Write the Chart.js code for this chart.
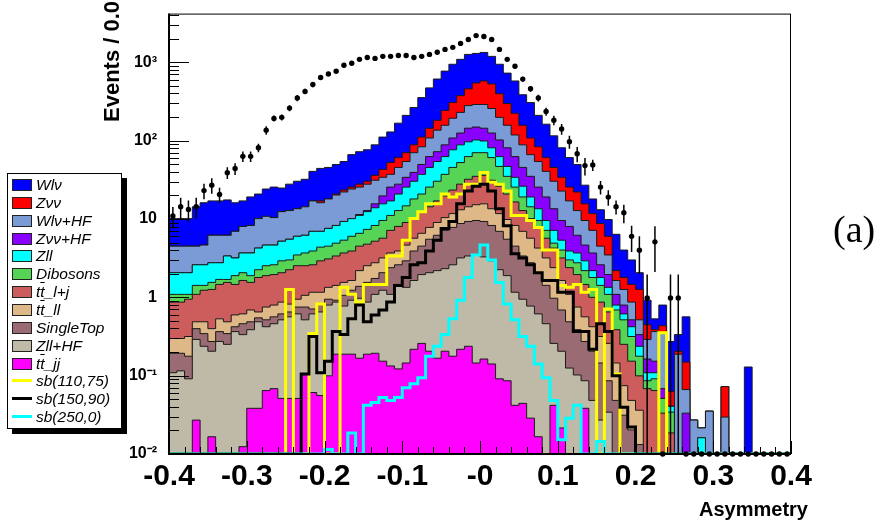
<!DOCTYPE html>
<html>
<head>
<meta charset="utf-8">
<title>Asymmetry</title>
<script src="https://cdn.jsdelivr.net/npm/chart.js@4.4.1/dist/chart.umd.min.js"></script>
<style>
  html, body { margin: 0; padding: 0; background: #fff; }
  #wrap { position: relative; width: 885px; height: 526px; overflow: hidden; background: #fff; }
  #plot { position: absolute; left: 0; top: 0; }
  .ytitle { position: absolute; left: 101px; top: 122px; transform: rotate(-90deg); transform-origin: 0 0; white-space: nowrap; font: bold 22px/22px 'Liberation Sans', Arial, sans-serif; }
  .xtitle { position: absolute; left: 608px; top: 499px; width: 200px; text-align: right; font: bold 20px/20px 'Liberation Sans', Arial, sans-serif; }
  .tag { position: absolute; left: 833px; top: 210px; font: 38px/38px 'Liberation Serif', 'DejaVu Serif', serif; }
  #legend { position: absolute; left: 7px; top: 173px; width: 113px; height: 254px; border: 1px solid #000; background: #fff; box-shadow: 5px 5px 0 #000; }
  #legend .row { position: absolute; left: 0; width: 113px; height: 18px; font: italic 15.5px/18px 'Liberation Sans', Arial, sans-serif; white-space: nowrap; }
  #legend .box { position: absolute; left: 4px; top: 3px; width: 18px; height: 10px; border: 1px solid #222; }
  #legend .ln { position: absolute; left: 4px; top: 7px; width: 20px; height: 3px; }
  #legend .txt { position: absolute; left: 28px; top: 0; }
  .ob { text-decoration: overline; }
</style>
</head>
<body>
<div id="wrap">
  <canvas id="plot" width="885" height="526"></canvas>
  <div class="ytitle">Events / 0.01</div>
  <div class="xtitle">Asymmetry</div>
  <div class="tag">(a)</div>
  <div id="legend"></div>
</div>
<script>
// Binning: 80 bins of 0.01 from -0.4 to 0.4
const nBins = 80;
const xLow = -0.4;
const binW = 0.01;

// Stack heights as drawn (cumulative: each one includes every process listed after it)
const wlv = [10.1, 10.1, 10.1, 14.3, 16.1, 17.0, 17.0, 17.5, 16.1, 17.0,
  19.1, 20.8, 24.1, 25.5, 24.8, 27.8, 30.3, 32.1, 40.5, 44.2,
  45.5, 49.6, 54.1, 66.2, 72.2, 76.4, 88.3, 111, 129, 167,
  210, 265, 354, 471, 611, 771, 943, 1090, 1260, 1297,
  1335, 1189, 943, 727, 577, 385, 306, 210, 162, 115,
  81, 60.7, 49.6, 27.0, 18.0, 13.1, 9.84, 6.37, 4.01, 3.00,
  2.06, 0.918, 0.531, 0.796, 0.273, 0.334, 0.563, 0.0271, 0.0215, 0.0352,
  0, 0.0724, 0, 0, 0.129, 0, 0, 0, 0, 0];
const zvv = [4.50, 4.50, 4.50, 4.50, 4.64, 6.19, 6.19, 6.19, 6.95, 8.03,
  8.26, 10.1, 10.8, 10.4, 12.4, 12.8, 13.5, 14.3, 17.0, 17.0,
  18.0, 20.8, 23.4, 25.5, 27.8, 30.3, 36.1, 42.9, 52.5, 60.7,
  70.1, 88.3, 111, 144, 182, 243, 306, 375, 458, 544,
  577, 529, 397, 297, 223, 157, 108, 83.4, 60.7, 45.5,
  34.0, 25.5, 22.1, 15.6, 11.7, 8.75, 6.01, 2.19, 1.79, 1.46,
  1.26, 0.447, 0.386, 0.434, 0.063, 0.205, 0.149, 0.0271, 0.0215, 0.0352,
  0, 0.0724, 0, 0, 0, 0, 0, 0, 0, 0];
const wlvHF = [4.50, 4.50, 4.50, 4.50, 4.64, 6.19, 6.19, 6.19, 6.95, 8.03,
  8.26, 10.1, 10.8, 10.4, 12.4, 12.8, 13.5, 14.3, 17.0, 16.1,
  18.0, 20.2, 22.1, 24.1, 25.5, 27.8, 31.2, 34.0, 37.1, 45.5,
  54.1, 70.1, 83.4, 108, 136, 157, 193, 229, 280, 289,
  289, 257, 198, 157, 118, 88.3, 66.2, 54.1, 40.5, 30.3,
  22.7, 17.0, 12.8, 9.56, 7.15, 4.50, 3.47, 1.64, 1.26, 0.868,
  0.516, 0.290, 0.365, 0.354, 0.0406, 0.188, 0.0664, 0.0271, 0.0215, 0.0352,
  0, 0.0296, 0, 0, 0, 0, 0, 0, 0, 0];
const zvvHF = [2.06, 2.06, 2.06, 2.60, 2.60, 2.76, 2.76, 3.37, 3.18, 3.68,
  3.68, 4.25, 4.64, 4.64, 5.20, 5.51, 6.01, 6.19, 6.95, 6.95,
  7.58, 8.26, 9.29, 10.1, 11.4, 12.8, 15.6, 19.7, 25.5, 27.8,
  34.0, 39.3, 49.6, 62.5, 72.2, 88.3, 108, 125, 144, 149,
  144, 125, 102, 81.0, 62.5, 45.5, 35.0, 25.5, 19.1, 13.5,
  9.56, 8.03, 6.19, 4.64, 3.68, 2.60, 1.95, 1.09, 0.796, 0.516,
  0.334, 0.163, 0.153, 0.0683, 0.0406, 0, 0.0332, 0, 0.0161, 0,
  0, 0, 0, 0, 0, 0, 0, 0, 0, 0];
const zll = [2.06, 2.06, 2.06, 2.60, 2.60, 2.76, 2.76, 3.37, 3.18, 3.68,
  3.68, 4.25, 4.64, 4.64, 5.20, 5.51, 6.01, 6.19, 6.95, 6.95,
  7.58, 8.26, 9.29, 10.1, 11.1, 12.4, 13.9, 15.6, 17.0, 20.8,
  25.5, 30.3, 37.1, 45.5, 54.1, 62.5, 76.4, 88.3, 96.5, 102,
  99, 81.0, 62.5, 46.8, 34.0, 26.2, 19.1, 13.5, 9.56, 7.15,
  5.36, 3.90, 3.68, 2.92, 2.19, 1.79, 1.34, 0.796, 0.614, 0.421,
  0.237, 0.109, 0.109, 0.0512, 0.0406, 0, 0, 0, 0.0161, 0,
  0, 0, 0, 0, 0, 0, 0, 0, 0, 0];
const dibosons = [1.09, 1.09, 1.09, 1.42, 1.42, 1.55, 1.69, 1.69, 1.89, 2.06,
  1.89, 2.25, 2.53, 2.60, 2.92, 3.00, 3.47, 3.68, 3.90, 4.37,
  4.50, 4.91, 5.36, 6.01, 6.56, 7.36, 8.26, 9.56, 11.1, 12.8,
  14.7, 18.0, 20.8, 25.5, 30.3, 37.1, 45.5, 52.5, 62.5, 70.1,
  70.1, 60.7, 46.8, 35.0, 25.5, 19.1, 14.3, 9.56, 7.15, 4.91,
  4.01, 3.00, 2.76, 2.19, 1.79, 1.42, 1.09, 0.689, 0.516, 0.316,
  0.177, 0.0861, 0.0911, 0.0512, 0.0342, 0, 0, 0, 0, 0,
  0, 0, 0, 0, 0, 0, 0, 0, 0, 0];
const ttLJ = [0.868, 0.868, 0.945, 1.09, 1.23, 1.26, 1.46, 1.55, 1.46, 1.64,
  1.55, 1.79, 1.89, 1.95, 2.06, 2.25, 2.53, 2.53, 2.60, 2.92,
  3.09, 3.37, 3.68, 3.90, 4.50, 4.77, 5.20, 5.68, 7.15, 8.03,
  9.02, 10.4, 12.4, 14.3, 17.0, 19.7, 23.4, 27.8, 32.1, 35.0,
  36.1, 31.2, 26.2, 20.8, 16.5, 12.8, 10.1, 7.58, 5.68, 4.25,
  3.18, 2.39, 1.95, 1.46, 1.00, 0.868, 0.650, 0.386, 0.251, 0.153,
  0.0994, 0.0683, 0.0645, 0.0332, 0.0186, 0, 0, 0, 0, 0,
  0, 0, 0, 0, 0, 0, 0, 0, 0, 0];
const ttLL = [0.298, 0.298, 0.316, 0.487, 0.487, 0.398, 0.531, 0.487, 0.596, 0.614,
  0.689, 0.650, 0.751, 0.796, 0.868, 0.819, 0.945, 1.06, 1.16, 1.16,
  1.34, 1.42, 1.55, 1.64, 2.19, 2.53, 2.76, 3.18, 3.68, 3.90,
  4.64, 5.68, 6.56, 7.80, 9.02, 10.4, 11.7, 13.1, 14.3, 15.2,
  15.6, 13.5, 11.7, 9.84, 8.26, 6.95, 5.68, 4.25, 3.18, 2.39,
  1.64, 1.09, 0.751, 0.563, 0.421, 0.316, 0.258, 0.145, 0.0745, 0.0483,
  0.0362, 0, 0, 0, 0, 0, 0, 0, 0, 0,
  0, 0, 0, 0, 0, 0, 0, 0, 0, 0];
const singleTop = [0.193, 0.193, 0.177, 0.398, 0.344, 0.273, 0.365, 0.344, 0.421, 0.460,
  0.487, 0.547, 0.516, 0.563, 0.614, 0.650, 0.751, 0.751, 0.709, 0.819,
  0.945, 0.918, 1.06, 1.23, 1.38, 1.55, 1.74, 2.06, 2.39, 2.60,
  2.92, 3.90, 4.50, 5.51, 6.19, 7.15, 7.80, 8.75, 9.29, 9.56,
  9.29, 8.26, 6.95, 5.51, 4.50, 3.37, 2.76, 2.06, 1.42, 0.973,
  0.689, 0.487, 0.386, 0.273, 0.205, 0.145, 0.0861, 0.0483, 0.0313, 0.0203,
  0.0132, 0, 0, 0, 0, 0, 0, 0, 0, 0,
  0, 0, 0, 0, 0, 0, 0, 0, 0, 0];
const zllHF = [0.109, 0.115, 0.0911, 0.290, 0.237, 0.205, 0.273, 0.251, 0.365, 0.334,
  0.386, 0.487, 0.421, 0.460, 0.516, 0.563, 0.614, 0.516, 0.614, 0.650,
  0.796, 0.868, 0.773, 0.918, 0.973, 0.868, 1.09, 1.23, 1.09, 1.46,
  1.34, 1.64, 1.95, 2.06, 2.19, 2.32, 2.60, 3.18, 3.37, 3.47,
  3.28, 2.92, 2.25, 1.89, 1.16, 0.945, 0.773, 0.614, 0.460, 0.258,
  0.205, 0.125, 0.102, 0.0861, 0.0483, 0.0271, 0.0342, 0, 0, 0,
  0, 0, 0, 0, 0, 0, 0, 0, 0, 0,
  0, 0, 0, 0, 0, 0, 0, 0, 0, 0];
const ttJJ = [0, 0, 0, 0.0271, 0, 0.0166, 0, 0, 0, 0.0124,
  0.0383, 0.0383, 0.0645, 0.0683, 0.0512, 0.0512, 0.0512, 0.105, 0.0609, 0.0558,
  0.0994, 0.188, 0.188, 0.188, 0.167, 0.188, 0.193, 0.153, 0.133, 0.122,
  0.145, 0.217, 0.258, 0.205, 0.167, 0.205, 0.177, 0.217, 0.237, 0.145,
  0.163, 0.141, 0.0911, 0.0861, 0.0418, 0.0443, 0.0287, 0.0166, 0, 0.0418,
  0.0215, 0, 0, 0.0383, 0, 0, 0, 0, 0, 0,
  0, 0, 0, 0, 0, 0, 0, 0, 0, 0,
  0, 0, 0, 0, 0, 0, 0, 0, 0, 0];

// Signal hypotheses (not stacked)
const sb110_75 = [0, 0, 0, 0, 0, 0, 0, 0, 0, 0,
  0, 0, 0, 0, 0, 1.26, 0, 0, 0.344, 0.819,
  0, 0, 1.34, 1.09, 0.868, 1.46, 1.46, 1.46, 3.37, 3.37,
  5.36, 10.1, 12.4, 15.6, 15.6, 20.8, 19.1, 20.8, 27.8, 27.8,
  39.3, 29.5, 27.8, 22.7, 11.1, 11.1, 9.56, 7.80, 4.01, 4.01,
  1.42, 1.34, 1.46, 1.16, 1.26, 0, 0.709, 0.105, 0, 0,
  0, 0, 0, 0.354, 0, 0, 0, 0, 0, 0,
  0, 0, 0, 0, 0, 0, 0, 0, 0, 0];
const sb150_90 = [0, 0, 0, 0, 0, 0, 0, 0, 0, 0,
  0, 0, 0, 0, 0, 0, 0, 0.105, 0.316, 0.109,
  0.153, 0.365, 0.334, 0.531, 0.796, 0.487, 0.596, 0.689, 0.868, 1.42,
  1.79, 2.60, 2.76, 3.90, 5.36, 7.58, 9.29, 15.6, 22.7, 26.2,
  27.8, 22.7, 13.5, 8.2, 3.6, 3.18, 2.60, 2.06, 1.64, 1.64,
  1.16, 1.16, 0.365, 0.365, 0.217, 0.460, 0.365, 0.0994, 0.0394, 0.0221,
  0, 0, 0, 0, 0, 0, 0, 0, 0, 0,
  0, 0, 0, 0, 0, 0, 0, 0, 0, 0];
const sb250_0 = [0, 0, 0, 0, 0, 0, 0, 0, 0, 0,
  0, 0, 0, 0, 0, 0, 0, 0, 0, 0,
  0.0114, 0, 0, 0.0186, 0, 0.0418, 0.0455, 0.0527, 0.0483, 0.0527,
  0.0703, 0.0789, 0.0938, 0.177, 0.237, 0.334, 0.531, 0.918, 1.79, 3.47,
  4.64, 3.00, 1.55, 0.819, 0.516, 0.316, 0.237, 0.141, 0.0938, 0.0483,
  0.0152, 0.0287, 0.0418, 0, 0, 0.0144, 0, 0, 0, 0,
  0, 0, 0, 0, 0, 0, 0, 0, 0, 0,
  0, 0, 0, 0, 0, 0, 0, 0, 0, 0];

// Data and its errors
const dataVal = [10.9, 14.3, 13.2, 14.3, 23, 27, 20.5, 39, 44, 63,
  63, 81, 136, 192, 198, 260, 350, 425, 520, 640,
  710, 770, 915, 970, 1090, 1150, 1120, 1190, 1190, 1220,
  1220, 1150, 1190, 1260, 1340, 1460, 1550, 1740, 1950, 2190,
  2130, 1950, 1460, 1090, 890, 610, 460, 350, 235, 182,
  141, 97, 68, 48, 49, 25.5, 19, 14.3, 12, 6.0,
  4.0, 0.98, 5.1, 0, 0.98, 0.98, 0, 0, 0, 0,
  0, 0, 0, 0, 0, 0, 0, 0, 0, 0];
const dataErr = [3.3, 4.3, 4.0, 4.3, 5.2, 6.0, 4.6, 6.6, 7.5, 9.8,
  9.8, 10, 17, 17, 18, 23, 32, 35, 40, 45,
  48, 50, 55, 56, 60, 62, 61, 63, 63, 64,
  64, 62, 63, 65, 67, 70, 72, 76, 81, 85,
  84, 81, 70, 60, 54, 45, 39, 34, 28, 25,
  22, 18, 15, 12, 8.0, 5.0, 4.3, 2.9, 3.2, 2.2,
  2.0, 0.98, 3.0, 0, 0.98, 0.98, 0, 0, 0, 0,
  0, 0, 0, 0, 0, 0, 0, 0, 0, 0];

const yMin = 0.01, yMax = 4180;
const yTickText = { '3': '10³', '2': '10²', '1': '10', '0': '1', '-1': '10⁻¹', '-2': '10⁻²' };

// Stack order, top of the stack first
const layers = [
  { name: 'Wlν', vals: wlv, color: '#0000ff' },
  { name: 'Zνν', vals: zvv, color: '#ff0000' },
  { name: 'Wlν+HF', vals: wlvHF, color: '#7b9bd6' },
  { name: 'Zνν+HF', vals: zvvHF, color: '#8a00ff' },
  { name: 'Zll', vals: zll, color: '#00ffff' },
  { name: 'Dibosons', vals: dibosons, color: '#55d455' },
  { name: 't<span class="ob">t</span>_l+j', vals: ttLJ, color: '#cd5c5c' },
  { name: 't<span class="ob">t</span>_ll', vals: ttLL, color: '#deb887' },
  { name: 'SingleTop', vals: singleTop, color: '#9a6b72' },
  { name: 'Zll+HF', vals: zllHF, color: '#bfbaa7' },
  { name: 't<span class="ob">t</span>_jj', vals: ttJJ, color: '#ff00ff' }
];
const signals = [
  { name: 'sb(110,75)', vals: sb110_75, color: '#ffff00' },
  { name: 'sb(150,90)', vals: sb150_90, color: '#000000' },
  { name: 'sb(250,0)', vals: sb250_0, color: '#00ffff' }
];

const edges = Array.from({ length: nBins + 1 }, (_, i) => +(xLow + i * binW).toFixed(2));
const centers = edges.slice(0, nBins).map(e => +(e + binW / 2).toFixed(3));

// histogram outline: one point per low edge, plus the last upper edge
function stepPoints(vals) {
  const pts = vals.map((v, i) => ({ x: edges[i], y: Math.max(v, yMin) }));
  pts.push({ x: edges[nBins], y: Math.max(vals[nBins - 1], yMin) });
  return pts;
}

const datasets = [];
layers.forEach((l, i) => {
  datasets.push({
    data: stepPoints(l.vals),
    stepped: true,
    fill: 'start',
    backgroundColor: l.color,
    borderColor: '#1a1a1a',
    borderWidth: 1,
    pointRadius: 0,
    order: 30 - i
  });
});
signals.forEach((s, i) => {
  datasets.push({
    data: stepPoints(s.vals),
    stepped: true,
    fill: false,
    borderColor: s.color,
    borderWidth: 3,
    pointRadius: 0,
    order: 3 - i
  });
});
datasets.push({
  data: dataVal.map((v, i) => ({ x: centers[i], y: Math.max(v, yMin) })),
  showLine: false,
  pointRadius: 2.7,
  pointBackgroundColor: '#000',
  pointBorderWidth: 0,
  clip: false,
  order: 0
});

// error bars of the data points
const errorBars = {
  id: 'errorBars',
  afterDatasetsDraw(chart) {
    const { ctx, scales: { x, y } } = chart;
    ctx.save();
    ctx.strokeStyle = '#000';
    ctx.lineWidth = 1.5;
    ctx.beginPath();
    dataVal.forEach((v, i) => {
      if (!dataErr[i]) return;
      const px = x.getPixelForValue(centers[i]);
      ctx.moveTo(px, y.getPixelForValue(v + dataErr[i]));
      ctx.lineTo(px, y.getPixelForValue(Math.max(v - dataErr[i], yMin)));
    });
    ctx.stroke();
    ctx.restore();
  }
};

// ROOT style frame and inward tick marks
const rootAxes = {
  id: 'rootAxes',
  afterDraw(chart) {
    const { ctx, chartArea: a, scales: { x, y } } = chart;
    ctx.save();
    ctx.strokeStyle = '#000';
    ctx.lineWidth = 1;
    ctx.beginPath();
    y.ticks.forEach(t => {
      const v = t.value;
      if (v < yMin || v > yMax) return;
      const e = Math.floor(Math.log10(v) + 1e-9);
      const m = v / Math.pow(10, e);
      if (Math.abs(m - Math.round(m)) > 1e-6) return;
      const len = Math.round(m) === 1 ? 20 : 10;
      const py = Math.round(y.getPixelForValue(v)) + 0.5;
      ctx.moveTo(a.left, py);
      ctx.lineTo(a.left + len, py);
    });
    x.ticks.forEach(t => {
      const c = Math.round(t.value * 100);
      const len = c % 10 === 0 ? 13 : 7;
      const px = Math.round(x.getPixelForValue(t.value)) + 0.5;
      ctx.moveTo(px, a.bottom);
      ctx.lineTo(px, a.bottom - len);
    });
    ctx.stroke();
    ctx.strokeRect(a.left + 0.5, a.top + 0.5, a.right - a.left - 1, a.bottom - a.top);
    ctx.lineWidth = 2;
    ctx.beginPath();
    ctx.moveTo(a.left, a.top);
    ctx.lineTo(a.left, a.bottom);
    ctx.lineTo(a.right, a.bottom);
    ctx.stroke();
    ctx.restore();
  }
};

const font = "'Liberation Sans', Arial, sans-serif";

new Chart(document.getElementById('plot'), {
  type: 'line',
  data: { datasets },
  options: {
    responsive: false,
    animation: false,
    devicePixelRatio: 1,
    layout: { padding: { left: 0, right: 94, top: 6, bottom: 0 } },
    plugins: { legend: { display: false }, tooltip: { enabled: false } },
    scales: {
      x: {
        type: 'linear',
        min: -0.4,
        max: 0.4,
        grid: { display: false },
        border: { display: false },
        afterFit: s => { s.height = 72; },
        ticks: {
          stepSize: 0.02,
          autoSkip: false,
          maxRotation: 0,
          minRotation: 0,
          padding: -3,
          color: '#000',
          font: { family: font, size: 30, weight: 'bold' },
          callback: v => {
            const c = Math.round(v * 100);
            if (c % 10 !== 0) return '';
            return c === 0 ? '-0' : (c / 100).toFixed(1);
          }
        }
      },
      y: {
        type: 'logarithmic',
        min: yMin,
        max: yMax,
        grid: { display: false },
        border: { display: false },
        afterFit: s => { s.width = 169; },
        ticks: {
          autoSkip: false,
          padding: 4,
          color: '#000',
          font: { family: font, size: 16, weight: 'bold' },
          callback: v => {
            const l = Math.log10(v), r = Math.round(l);
            if (Math.abs(l - r) > 1e-6) return '';
            return yTickText[String(r)] || '';
          }
        }
      }
    }
  },
  plugins: [errorBars, rootAxes]
});

// legend box
const legend = document.getElementById('legend');
layers.concat(signals).forEach((item, i) => {
  const row = document.createElement('div');
  row.className = 'row';
  row.style.top = (2 + i * 17.85) + 'px';
  const mark = i < layers.length
    ? `<div class="box" style="background:${item.color}"></div>`
    : `<div class="ln" style="background:${item.color}"></div>`;
  row.innerHTML = mark + `<div class="txt">${item.name}</div>`;
  legend.appendChild(row);
});
</script>
</body>
</html>
